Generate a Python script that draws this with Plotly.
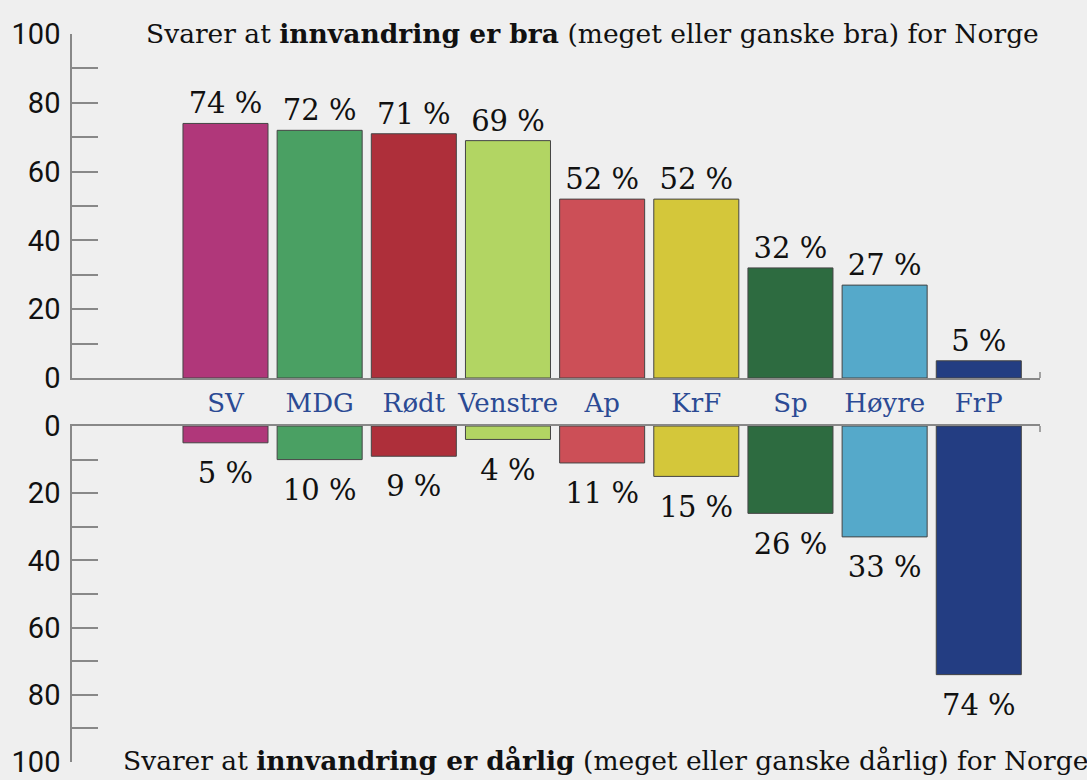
import plotly.graph_objects as go

parties = ["SV", "MDG", "Rødt", "Venstre", "Ap", "KrF", "Sp", "Høyre", "FrP"]
good = [74, 72, 71, 69, 52, 52, 32, 27, 5]
bad = [5, 10, 9, 4, 11, 15, 26, 33, 74]
colors = ["#b0377a", "#4aa063", "#ae2f3a", "#b2d563", "#cc4f57",
          "#d4c73a", "#2d6b40", "#55a9ca", "#233d82"]
y_ticks = [0, 20, 40, 60, 80, 100]

W, H = 1087, 780
BG = "#efefef"
SERIF = "DejaVu Serif"
SANS = "Roboto"

def py(p):
    return 1 - p / H

fig = go.Figure()
fig.add_trace(go.Bar(
    x=parties, y=good, marker=dict(color=colors, line=dict(color="#444", width=1)),
    text=[f"{v} %" for v in good], textposition="outside", cliponaxis=False,
    textfont=dict(family=SERIF, size=29, color="#111"),
    xaxis="x", yaxis="y", showlegend=False, hoverinfo="skip"))
fig.add_trace(go.Bar(
    x=parties, y=bad, marker=dict(color=colors, line=dict(color="#444", width=1)),
    xaxis="x2", yaxis="y2", showlegend=False, hoverinfo="skip"))
fig.add_trace(go.Scatter(
    x=parties, y=bad, mode="markers+text", text=[f"{v} %" for v in bad],
    marker=dict(size=28, opacity=0),
    textposition="bottom center", cliponaxis=False,
    textfont=dict(family=SERIF, size=29, color="#111"),
    xaxis="x2", yaxis="y2", showlegend=False, hoverinfo="skip"))

xdom = [72 / W, 1040 / W]
xr = [-1.63, 8.65]
axis_common = dict(showgrid=False, zeroline=False, showline=True, linecolor="#888",
                   linewidth=1.5, automargin=False)
ytick_common = dict(tickvals=y_ticks, ticks="inside", ticklen=26, tickcolor="#888", tickwidth=1.5,
                    minor=dict(dtick=10, tick0=0, ticks="inside", ticklen=26, tickcolor="#888", tickwidth=1.5),
                    tickfont=dict(family=SANS, size=29, color="#111"), ticklabelstandoff=4,
                    ticklabeloverflow="allow")
fig.update_layout(
    width=W, height=H, paper_bgcolor=BG, plot_bgcolor=BG,
    margin=dict(l=0, r=0, t=0, b=0), bargap=0.097,
    xaxis=dict(domain=xdom, range=xr, anchor="y", ticks="", showticklabels=True,
               tickfont=dict(family=SERIF, size=26, color="#2b4a94"),
               ticklabelstandoff=1, **axis_common),
    yaxis=dict(domain=[py(378), py(34)], range=[0, 100], anchor="x", **ytick_common, **axis_common),
    xaxis2=dict(domain=xdom, range=xr, anchor="y2", ticks="", showticklabels=False,
                side="top", **axis_common),
    yaxis2=dict(domain=[py(762), py(426)], range=[100, 0], anchor="x2", **ytick_common, **axis_common),
)

# small end ticks on x axis lines
fig.add_shape(type="line", xref="paper", yref="paper", x0=xdom[1], x1=xdom[1],
              y0=py(378), y1=py(372), line=dict(color="#888", width=1.5))
fig.add_shape(type="line", xref="paper", yref="paper", x0=xdom[1], x1=xdom[1],
              y0=py(426), y1=py(432), line=dict(color="#888", width=1.5))

fig.add_annotation(xref="paper", yref="paper", x=592 / W, y=py(34), yanchor="middle",
                   xanchor="center", showarrow=False,
                   text="Svarer at <b>innvandring er bra</b> (meget eller ganske bra) for Norge",
                   font=dict(family=SERIF, size=26.5, color="#111"))
fig.add_annotation(xref="paper", yref="paper", x=605 / W, y=py(760), yanchor="middle",
                   xanchor="center", showarrow=False,
                   text="Svarer at <b>innvandring er dårlig</b> (meget eller ganske dårlig) for Norge",
                   font=dict(family=SERIF, size=26.5, color="#111"))

fig.write_html("out.html", config={"displayModeBar": False},
               post_script="document.body.style.margin='0';document.body.style.background='#efefef';")
